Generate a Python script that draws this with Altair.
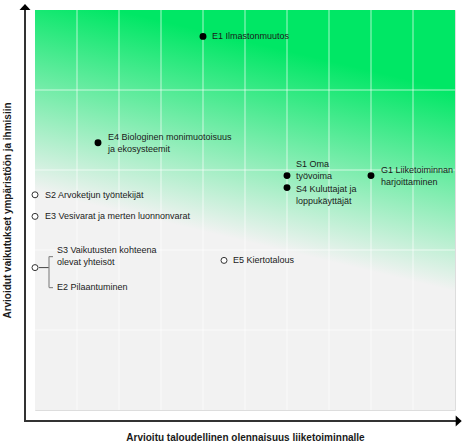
import altair as alt
import pandas as pd

# ---------------- data ----------------
point_ids = ["E1", "E4", "S1", "S4", "G1", "S2", "E3", "S3/E2", "E5"]
point_x = [4.0, 1.5, 6.0, 6.0, 8.0, 0.0, 0.0, 0.0, 4.5]
point_y = [4.67, 3.34, 2.93, 2.78, 2.93, 2.69, 2.42, 1.78, 1.87]
point_filled = [True, True, True, True, True, False, False, False, False]

label_ids = ["E1", "E4", "S1", "S4", "G1", "S2", "E3", "S3", "E2", "E5"]
label_point = ["E1", "E4", "S1", "S4", "G1", "S2", "E3", "S3/E2", "S3/E2", "E5"]
label_texts = [
    "E1 Ilmastonmuutos",
    "E4 Biologinen monimuotoisuus\nja ekosysteemit",
    "S1 Oma\ntyövoima",
    "S4 Kuluttajat ja\nloppukäyttäjät",
    "G1 Liiketoiminnan\nharjoittaminen",
    "S2 Arvoketjun työntekijät",
    "E3 Vesivarat ja merten luonnonvarat",
    "S3 Vaikutusten kohteena\nolevat yhteisöt",
    "E2 Pilaantuminen",
    "E5 Kiertotalous",
]

x_grid = [1, 2, 3, 4, 5, 6, 7, 8, 9]
y_grid = [1, 2, 3, 4]
x_domain = [0, 10]
y_domain = [0, 5]

x_title = "Arvioitu taloudellinen olennaisuus liiketoiminnalle"
y_title = "Arvioidut vaikutukset ympäristöön ja ihmisiin"

# ---------------- styling ----------------
FONT = "Liberation Sans"
GREEN = "#00e765"
GREY = "#f2f2f2"
AXIS_COL = "#333333"
TEXT_COL = "#1a1a1a"

# label pixel offsets (dx, dy of first line) relative to the anchor point
label_offsets = {
    "E1": (9, 0), "E4": (10, -6), "S1": (9, -12), "S4": (9, 1),
    "G1": (10, -6), "S2": (10, 0), "E3": (10, 0), "S3": (22, -18),
    "E2": (22, 19), "E5": (9, 0),
}

x_axis = alt.Axis(title=x_title, grid=False, domain=False, ticks=False, labels=False,
                  titleFont=FONT, titleFontSize=10, titleFontWeight="bold",
                  titleColor=TEXT_COL, titlePadding=22)
y_axis = alt.Axis(title=y_title, grid=False, domain=False, ticks=False, labels=False,
                  titleFont=FONT, titleFontSize=10, titleFontWeight="bold",
                  titleColor=TEXT_COL, titlePadding=23)
x_scale = alt.Scale(domain=x_domain, nice=False, zero=False)
y_scale = alt.Scale(domain=y_domain, nice=False, zero=False)


def X(field):
    return alt.X(f"{field}:Q", scale=x_scale, axis=x_axis)


def Y(field):
    return alt.Y(f"{field}:Q", scale=y_scale, axis=y_axis)


pts = pd.DataFrame({"id": point_ids, "x": point_x, "y": point_y, "filled": point_filled})
pos = {i: (x, y) for i, x, y in zip(point_ids, point_x, point_y)}

# background gradient rectangle
bg_df = pd.DataFrame({"x": [x_domain[0]], "x2": [x_domain[1]], "y": [y_domain[0]], "y2": [y_domain[1]]})
background = alt.Chart(bg_df).mark_rect(
    fill=alt.Gradient(
        gradient="linear",
        stops=[alt.GradientStop(color=GREEN, offset=0),
               alt.GradientStop(color=GREEN, offset=0.12),
               alt.GradientStop(color=GREY, offset=0.71),
               alt.GradientStop(color=GREY, offset=1)],
        x1=0.6, y1=0, x2=0.4, y2=0.8,
    ),
    stroke=None,
).encode(x=X("x"), x2="x2:Q", y=Y("y"), y2="y2:Q")

# grid lines
vgrid = alt.Chart(pd.DataFrame({"gx": x_grid})).mark_rule(
    color="white", opacity=0.65, strokeWidth=1).encode(x=X("gx"))
hgrid = alt.Chart(pd.DataFrame({"gy": y_grid})).mark_rule(
    color="white", opacity=0.65, strokeWidth=1).encode(y=Y("gy"))

# bracket for S3 / E2 (anchored to the shared point)
bx, by = pos["S3/E2"]
br_df = pd.DataFrame({"x": [bx], "y": [by]})
br_conn = alt.Chart(br_df).mark_rule(color="#444444", strokeWidth=1, xOffset=4, x2Offset=14).encode(
    x=X("x"), x2="x:Q", y=Y("y"))
br_vert = alt.Chart(br_df).mark_rule(color="#8a8a8a", strokeWidth=1.2, xOffset=14, yOffset=-11, y2Offset=20).encode(
    x=X("x"), y=Y("y"), y2="y:Q")
br_top = alt.Chart(br_df).mark_rule(color="#8a8a8a", strokeWidth=1.2, xOffset=14, x2Offset=18, yOffset=-11).encode(
    x=X("x"), x2="x:Q", y=Y("y"))
br_bot = alt.Chart(br_df).mark_rule(color="#8a8a8a", strokeWidth=1.2, xOffset=14, x2Offset=18, yOffset=20).encode(
    x=X("x"), x2="x:Q", y=Y("y"))

# points
filled_pts = alt.Chart(pts[pts["filled"]]).mark_point(
    shape="circle", filled=True, color="black", size=48, opacity=1).encode(x=X("x"), y=Y("y"))
open_pts = alt.Chart(pts[~pts["filled"]]).mark_point(
    shape="circle", filled=True, fill="white", stroke=AXIS_COL, strokeWidth=1, size=36, opacity=1).encode(
    x=X("x"), y=Y("y"))

# labels
label_layers = []
for lid, lp, txt in zip(label_ids, label_point, label_texts):
    lx, ly = pos[lp]
    dx, dy = label_offsets[lid]
    df = pd.DataFrame({"x": [lx], "y": [ly], "t": [txt]})
    label_layers.append(
        alt.Chart(df).mark_text(
            align="left", baseline="middle", dx=dx, dy=dy, lineBreak="\n", lineHeight=12,
            font=FONT, fontSize=9, color=TEXT_COL,
        ).encode(x=X("x"), y=Y("y"), text="t:N")
    )

# axis arrows (decorations in pixel space)
one = pd.DataFrame({"a": [0]})
v_line = alt.Chart(one).mark_rule(color=AXIS_COL, strokeWidth=2).encode(
    x=alt.value(-10), y=alt.value(-1), y2=alt.value(412))
h_line = alt.Chart(one).mark_rule(color=AXIS_COL, strokeWidth=2).encode(
    x=alt.value(-11), x2=alt.value(421), y=alt.value(411))
up_arrow = alt.Chart(one).mark_point(
    shape="M-1,0.55L0,-0.55L1,0.55Z", filled=True, color="black", size=121, opacity=1).encode(
    x=alt.value(-10), y=alt.value(-3))
right_arrow = alt.Chart(one).mark_point(
    shape="M-0.55,-1L0.55,0L-0.55,1Z", filled=True, color="black", size=121, opacity=1).encode(
    x=alt.value(423.7), y=alt.value(411))

chart = alt.layer(
    background, vgrid, hgrid, br_conn, br_vert, br_top, br_bot,
    open_pts, filled_pts, *label_layers, v_line, h_line, up_arrow, right_arrow,
).properties(
    width=420, height=400,
    autosize=alt.AutoSizeParams(type="none"),
    padding={"left": 35, "top": 10, "right": 12, "bottom": 33},
).configure_view(stroke=None).configure(background="white")

chart.save("out.html", embed_options={"renderer": "svg", "actions": False})
